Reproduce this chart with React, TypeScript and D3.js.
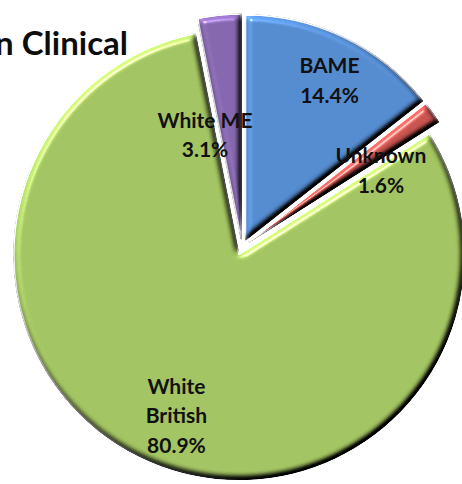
import React from "react";
import * as d3 from "d3";

// Ethnicity breakdown (percent of total), clockwise from 12 o'clock
const categories: string[] = ["BAME", "Unknown", "White British", "White ME"];
const shares: number[] = [14.4, 1.6, 80.9, 3.1];
const labelLines: string[][] = [
  ["BAME", "14.4%"],
  ["Unknown", "1.6%"],
  ["White", "British", "80.9%"],
  ["White ME", "3.1%"],
];
const sliceColors: string[] = ["#558BCF", "#C8544F", "#A3C462", "#8567AD"];
const titleText = "n Clinical";

const W = 462;
const H = 484;
const CX = 242;
const CY = 247;
const RADIUS = 225;
const EXPLODE = 8;

// where each data label sits: angle nudge (deg) and radius as a fraction of R
const labelPlacement: Record<string, { shift: number; frac: number }> = {
  BAME: { shift: 1.9, frac: 0.8 },
  Unknown: { shift: 6.7, frac: 0.67 },
  "White British": { shift: -2.1, frac: 0.77 },
  "White ME": { shift: -13.6, frac: 0.49 },
};

const FONT = "Lato, 'Open Sans', sans-serif";
const LABEL_SIZE = 21;
const LINE_H = 29.5;
const CAP_H = 15;

export default function App() {
  const pie = d3
    .pie<number>()
    .sort(null)
    .startAngle(0)
    .endAngle(2 * Math.PI)
    .value((v) => v);
  const arcs = pie(shares);
  const arcGen = d3.arc<d3.PieArcDatum<number>>().innerRadius(0).outerRadius(RADIUS);
  const toRad = Math.PI / 180;

  return (
    <svg
      width={W}
      height={H}
      viewBox={`0 0 ${W} ${H}`}
      style={{ position: "absolute", left: 0, top: 0, background: "#fff" }}
    >
      <defs>
        {/* soft rounded bevel: lit from the upper left, shaded on the far edges */}
        <filter id="bevel" x="-10%" y="-10%" width="120%" height="120%" colorInterpolationFilters="sRGB">
          <feGaussianBlur in="SourceAlpha" stdDeviation="3.2" result="blur" />
          <feDiffuseLighting in="blur" surfaceScale="6" diffuseConstant="1" lightingColor="#ffffff" result="diff">
            <feDistantLight azimuth="235" elevation="50" />
          </feDiffuseLighting>
          <feSpecularLighting
            in="blur"
            surfaceScale="6"
            specularConstant="0.75"
            specularExponent="70"
            lightingColor="#ffffff"
            result="spec"
          >
            <feDistantLight azimuth="235" elevation="50" />
          </feSpecularLighting>
          <feComposite in="SourceGraphic" in2="diff" operator="arithmetic" k1="1.305" k2="0" k3="0" k4="0" result="shaded" />
          <feComposite in="spec" in2="SourceAlpha" operator="in" result="specIn" />
          <feComposite in="shaded" in2="specIn" operator="arithmetic" k1="0" k2="1" k3="0.6" k4="0" result="lit" />
          <feComposite in="lit" in2="SourceAlpha" operator="in" />
        </filter>
      </defs>

      <text
        x={128}
        y={55}
        textAnchor="end"
        fontFamily={FONT}
        fontWeight={700}
        fontSize={33}
        fill="#0d0d0d"
      >
        {titleText}
      </text>

      {arcs.map((a, i) => {
        const mid = (a.startAngle + a.endAngle) / 2;
        const ox = CX + EXPLODE * Math.sin(mid);
        const oy = CY - EXPLODE * Math.cos(mid);
        return (
          <g key={categories[i]} transform={`translate(${ox},${oy})`}>
            <path
              d={arcGen(a) ?? ""}
              fill={sliceColors[i]}
              stroke="#ffffff"
              strokeWidth={1.5}
              strokeLinejoin="round"
              filter="url(#bevel)"
            />
          </g>
        );
      })}

      {arcs.map((a, i) => {
        const mid = (a.startAngle + a.endAngle) / 2;
        const ox = CX + EXPLODE * Math.sin(mid);
        const oy = CY - EXPLODE * Math.cos(mid);
        const place = labelPlacement[categories[i]];
        const ang = mid + place.shift * toRad;
        const r = place.frac * RADIUS;
        const lx = ox + r * Math.sin(ang);
        const ly = oy - r * Math.cos(ang);
        const lines = labelLines[i];
        const blockH = CAP_H + (lines.length - 1) * LINE_H;
        const firstBase = ly - blockH / 2 + CAP_H;
        return (
          <text
            key={`lbl-${categories[i]}`}
            textAnchor="middle"
            fontFamily={FONT}
            fontWeight={700}
            fontSize={LABEL_SIZE}
            fill="#111111"
          >
            {lines.map((ln, j) => (
              <tspan key={j} x={lx} y={firstBase + j * LINE_H}>
                {ln}
              </tspan>
            ))}
          </text>
        );
      })}
    </svg>
  );
}
